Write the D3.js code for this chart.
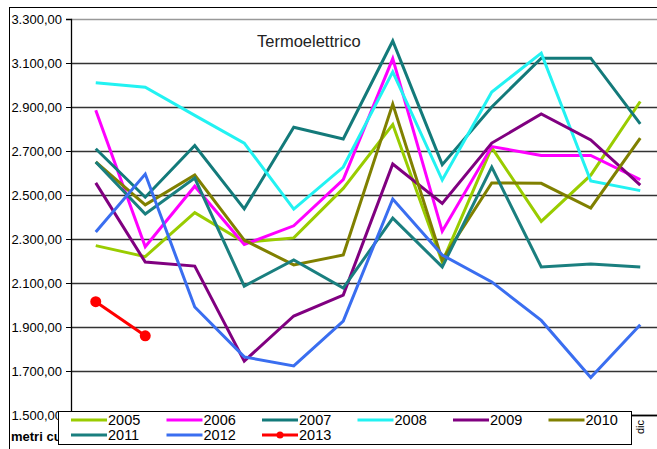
<!DOCTYPE html>
<html>
<head>
<meta charset="utf-8">
<script src="https://cdn.jsdelivr.net/npm/d3@7"></script>
<style>
  body { margin: 0; background: #fff; }
  svg { display: block; font-family: "Liberation Sans", Arial, sans-serif; }
</style>
</head>
<body>
<div id="chart"></div>
<script>
const months = ["gen", "feb", "mar", "apr", "mag", "giu", "lug", "ago", "set", "ott", "nov", "dic"];
const years = ["2005", "2006", "2007", "2008", "2009", "2010", "2011", "2012", "2013"];
const yTicks = [1500, 1700, 1900, 2100, 2300, 2500, 2700, 2900, 3100, 3300];

const v2005 = [2270, 2220, 2420, 2285, 2305, 2530, 2820, 2195, 2715, 2380, 2590, 2925];
const v2006 = [2885, 2265, 2540, 2275, 2360, 2570, 3120, 2335, 2720, 2680, 2680, 2570];
const v2007 = [2710, 2490, 2725, 2437, 2808, 2755, 3200, 2638, 2900, 3122, 3122, 2823];
const v2008 = [3010, 2990, 2862, 2736, 2436, 2627, 3060, 2568, 2968, 3145, 2564, 2520];
const v2009 = [2555, 2195, 2177, 1745, 1950, 2045, 2641, 2462, 2736, 2868, 2750, 2545];
const v2010 = [2650, 2455, 2591, 2295, 2182, 2227, 2913, 2205, 2555, 2553, 2441, 2759];
const v2011 = [2650, 2414, 2577, 2086, 2205, 2077, 2395, 2173, 2627, 2173, 2186, 2173];
const v2012 = [2332, 2595, 1991, 1764, 1723, 1927, 2482, 2227, 2105, 1930, 1670, 1910];
const v2013 = [2015, 1860];

const colors = ["#99cc00", "#ff00ff", "#137a7a", "#22f2f2", "#800080", "#808000", "#1a7f7f", "#3a6ef0", "#ff0000"];
const series = [v2005, v2006, v2007, v2008, v2009, v2010, v2011, v2012, v2013];

const W = 657, H = 449;
const plot = { left: 71, top: 19, bottom: 415, step: 49.5 };

const svg = d3.select("#chart").append("svg")
    .attr("width", W)
    .attr("height", H);

// outer chart border
svg.append("line").attr("x1", 9).attr("x2", W).attr("y1", 7.5).attr("y2", 7.5).attr("stroke", "#000");
svg.append("line").attr("x1", 9.5).attr("x2", 9.5).attr("y1", 7).attr("y2", H).attr("stroke", "#000");

const x = d3.scaleBand().domain(months).range([plot.left, plot.left + plot.step * 12]);
const y = d3.scaleLinear().domain([1500, 3300]).range([plot.bottom, plot.top]);

const it = d3.formatLocale({ decimal: ",", thousands: ".", grouping: [3], currency: ["€", ""] });
const fmt = it.format(",.2f");

// gridlines
svg.append("g")
    .attr("transform", `translate(${plot.left},0)`)
    .call(d3.axisLeft(y).tickValues(yTicks).tickSize(-(W - plot.left)).tickFormat(""))
    .call(g => g.select(".domain").remove())
    .call(g => g.selectAll("line").attr("stroke", (d) => d === 3300 ? "#999" : "#333").attr("stroke-width", 1.3));

// y axis
svg.append("g")
    .attr("transform", `translate(${plot.left},0)`)
    .call(d3.axisLeft(y).tickValues(yTicks).tickSize(5).tickPadding(4).tickFormat(fmt))
    .call(g => g.select(".domain").attr("stroke", "#000").attr("stroke-width", 1.3))
    .call(g => g.selectAll("text").attr("font-size", 13).attr("fill", "#000").attr("font-family", "Liberation Sans, Arial, sans-serif"));

// x axis
svg.append("g")
    .attr("transform", `translate(0,${plot.bottom})`)
    .call(d3.axisBottom(x).tickSize(0).tickPadding(0))
    .call(g => g.select(".domain").attr("stroke", "#000").attr("stroke-width", 1.3))
    .call(g => g.selectAll("text")
        .attr("font-size", 11)
        .attr("fill", "#000")
        .attr("text-anchor", "end")
        .attr("transform", "rotate(-90)")
        .attr("x", -5)
        .attr("y", 0)
        .attr("dy", "0.35em"));

svg.append("text")
    .attr("x", 257)
    .attr("y", 47)
    .attr("font-size", 16.5)
    .attr("fill", "#222")
    .text("Termoelettrico");

svg.append("text")
    .attr("x", 11)
    .attr("y", 441)
    .attr("font-size", 13)
    .attr("font-weight", "bold")
    .text("metri cubi");

const line = d3.line()
    .x((d, i) => x(months[i]) + x.bandwidth() / 2)
    .y(d => y(d));

series.forEach((vals, k) => {
    svg.append("path")
        .datum(vals)
        .attr("d", line)
        .attr("fill", "none")
        .attr("stroke", colors[k])
        .attr("stroke-width", 3)
        .attr("stroke-linejoin", "miter");
});

svg.append("g").selectAll("circle")
    .data(v2013)
    .join("circle")
    .attr("cx", (d, i) => x(months[i]) + x.bandwidth() / 2)
    .attr("cy", d => y(d))
    .attr("r", 5.5)
    .attr("fill", colors[8]);

// legend
const legend = svg.append("g");
legend.append("rect")
    .attr("x", 58.5).attr("y", 411.5)
    .attr("width", 573).attr("height", 33)
    .attr("fill", "#fff").attr("stroke", "#000");

const item = legend.selectAll("g.item")
    .data(years)
    .join("g")
    .attr("class", "item")
    .attr("transform", (d, i) => `translate(${71 + (i % 6) * 95.5},${i < 6 ? 420 : 435})`);

item.append("line")
    .attr("x1", 0).attr("x2", 36)
    .attr("stroke", (d, i) => colors[i])
    .attr("stroke-width", 3);

item.filter(d => d === "2013").append("circle")
    .attr("cx", 18).attr("r", 3.5).attr("fill", colors[8]);

item.append("text")
    .attr("x", 37)
    .attr("dy", "0.36em")
    .attr("font-size", 14.5)
    .attr("fill", "#000")
    .text(d => d);
</script>
</body>
</html>
